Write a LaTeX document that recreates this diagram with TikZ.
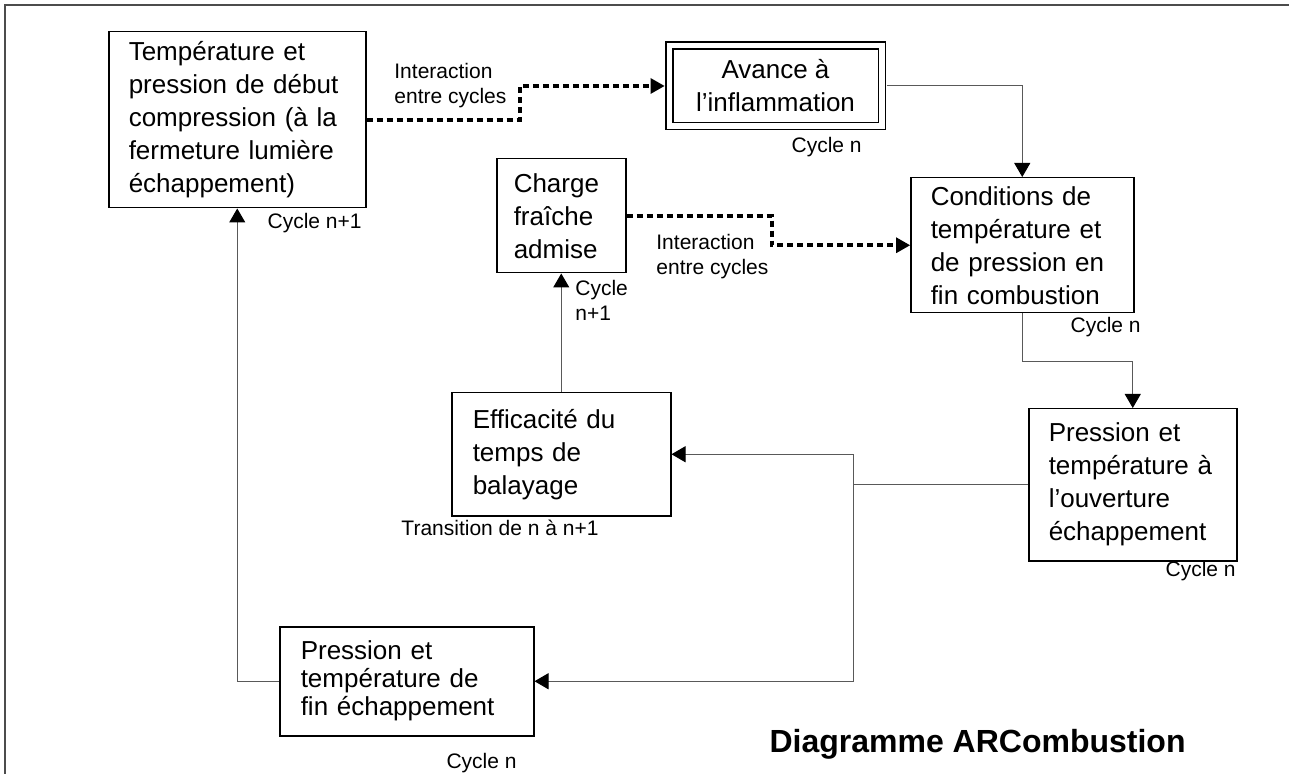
\documentclass[tikz,border=0pt]{standalone}
\usepackage{fontspec}
\setmainfont{Liberation Sans}
\usetikzlibrary{arrows.meta, positioning}

\begin{document}
\begin{tikzpicture}[x=0.5pt, y=-0.5pt,
    boite/.style={draw, line width=0.75pt, anchor=north west, align=left, inner ysep=0pt, font=\fontsize{13}{16.5}\selectfont},
    petit/.style={font=\fontsize{10.5}{12.5}\selectfont, inner sep=0pt},
    fil/.style={draw=gray!70!black, line width=0.5pt, -{Triangle[length=7pt, width=8pt, color=black]}},
    pointille/.style={line width=2pt, dash pattern=on 3pt off 2pt, -{Triangle[length=7pt, width=8pt, line width=0pt]}}]
    \useasboundingbox (0,0) rectangle (1289,774);

    % cadre
    \draw[gray!60!black, line width=1pt] (4.5,774) -- (4.5,5.5) -- (1289,5.5);

    % boites
    \node[boite, minimum height=88pt, inner xsep=10pt, text width=108.5pt] (debut) at (108,31) {Température et\\ pression de début\\ compression (à la\\ fermeture lumière\\ échappement)};
    \node[draw, double, double distance=2.75pt, line width=0.75pt, minimum width=106.25pt, minimum height=40.25pt, anchor=north west, align=center, font=\fontsize{13}{16.5}\selectfont] (avance) at (668.5,45) {Avance à\\ l’inflammation};
    \node[boite, minimum height=57pt, inner xsep=8.5pt, text width=47.5pt] (charge) at (496,158) {Charge\\ fraîche\\ admise};
    \node[boite, minimum height=67.5pt, inner xsep=10pt, text width=91.5pt] (finco) at (910,177) {Conditions de\\ température et\\ de pression en\\ fin combustion};
    \node[boite, minimum height=76pt, inner xsep=10pt, text width=84pt] (ouv) at (1028,408) {Pression et\\ température à\\ l’ouverture\\ échappement};
    \node[boite, minimum height=61.5pt, inner xsep=10.5pt, text width=88.5pt] (eff) at (451,392) {Efficacité du\\ temps de\\ balayage};
    \node[boite, minimum height=54.5pt, inner xsep=10.5pt, text width=106pt, font=\fontsize{13}{14}\selectfont] (finech) at (279,626) {Pression et\\ température de\\ fin échappement};

    % etiquettes
    \node[petit, anchor=east] (cyc1) at (362,223) {Cycle n+1};
    \node[petit, anchor=east] (cyc2) at (862,147) {Cycle n};
    \node[petit, anchor=east] (cyc3) at (1141,327) {Cycle n};
    \node[petit, anchor=east] (cyc4) at (1236,571) {Cycle n};
    \node[petit, anchor=east] (cyc5) at (517,763) {Cycle n};
    \node[petit] (trans) at (500,528) {Transition de n à n+1};
    \node[petit, anchor=west, align=left] (cyc6) at (575,300) {Cycle\\ n+1};
    \node[petit, anchor=west, align=left] (inter1) at (394,86) {Interaction\\ entre cycles};
    \node[petit, anchor=west, align=left] (inter2) at (656,257) {Interaction\\ entre cycles};
    \node[font=\fontsize{16}{19}\selectfont\bfseries, inner sep=0pt, anchor=base east] (titre) at (1186,752) {Diagramme ARCombustion};

    % interactions entre cycles
    \draw[pointille, shorten >=2pt] (debut.east) -- ++(153,0) |- (avance.west);
    \draw[pointille] (charge.east) -- ++(145,0) |- (finco.west);

    % enchainement
    \draw[fil, shorten <=2pt] (avance.east) -| (finco.north);
    \draw[fil] (finco.south) -- ++(0,48) -| (ouv.north);
    \draw[fil] (ouv.west) -- ++(-175,0) coordinate (j) |- (eff.east);
    \draw[fil] (j) |- (finech.east);
    \draw[fil] (eff.north) -- (charge.south);
    \draw[fil] (finech.west) -| (debut.south);
\end{tikzpicture}
\end{document}
